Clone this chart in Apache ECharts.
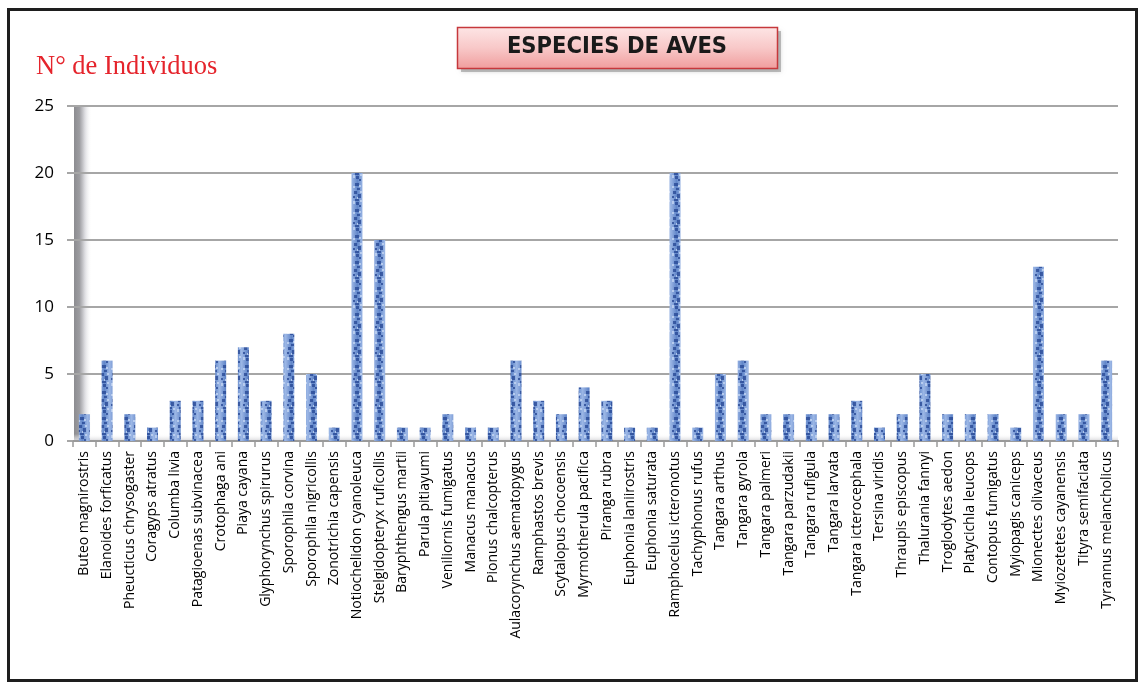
<!DOCTYPE html>
<html>
<head>
<meta charset="utf-8">
<script src="https://cdn.jsdelivr.net/npm/echarts@6/dist/echarts.min.js"></script>
<style>
  html, body { margin: 0; padding: 0; background: #ffffff; }
  #chart { width: 1140px; height: 682px; }
</style>
</head>
<body>
<div id="chart"></div>
<script>
// Bird species recorded and number of individuals per species
const species = [
  'Buteo magnirostris', 'Elanoides forficatus', 'Pheucticus chrysogaster', 'Coragyps atratus',
  'Columba livia', 'Patagioenas subvinacea', 'Crotophaga ani', 'Piaya cayana',
  'Glyphorynchus spirurus', 'Sporophila corvina', 'Sporophila nigricollis', 'Zonotrichia capensis',
  'Notiochelidon cyanoleuca', 'Stelgidopteryx ruficollis', 'Baryphthengus martii', 'Parula pitiayumi',
  'Veniliornis fumigatus', 'Manacus manacus', 'Pionus chalcopterus', 'Aulacorynchus aematopygus',
  'Ramphastos brevis', 'Scytalopus chocoensis', 'Myrmotherula pacifica', 'Piranga rubra',
  'Euphonia laniirostris', 'Euphonia saturata', 'Ramphocelus icteronotus', 'Tachyphonus rufus',
  'Tangara arthus', 'Tangara gyrola', 'Tangara palmeri', 'Tangara parzudakii',
  'Tangara rufigula', 'Tangara larvata', 'Tangara icterocephala', 'Tersina viridis',
  'Thraupis episcopus', 'Thalurania fannyi', 'Troglodytes aedon', 'Platycichla leucops',
  'Contopus fumigatus', 'Myiopagis caniceps', 'Mionectes olivaceus', 'Myiozetetes cayanensis',
  'Tityra semifaciata', 'Tyrannus melancholicus'
];

const individuals = [
  2, 6, 2, 1,
  3, 3, 6, 7,
  3, 8, 5, 1,
  20, 15, 1, 1,
  2, 1, 1, 6,
  3, 2, 4, 3,
  1, 1, 20, 1,
  5, 6, 2, 2,
  2, 2, 3, 1,
  2, 5, 2, 2,
  2, 1, 13, 2,
  2, 6
];

const yTicks = [0, 5, 10, 15, 20, 25];

const chartTitle = 'ESPECIES DE AVES';
const yAxisTitle = 'N° de Individuos';

// Mottled blue fill tile for the bars (fixed blotch layout, repeated vertically)
function makeBarTile() {
  const c = document.createElement('canvas');
  c.width = 11; c.height = 26;
  const g = c.getContext('2d');
  const grad = g.createLinearGradient(0, 0, 11, 0);
  grad.addColorStop(0, '#98b3e3');
  grad.addColorStop(0.5, '#6186c9');
  grad.addColorStop(1, '#a0bbe8');
  g.fillStyle = grad;
  g.fillRect(0, 0, 11, 26);
  const dark = [
    [3, 1, 4, 3], [5, 6, 3, 2], [2, 9, 3, 3], [6, 12, 3, 4],
    [3, 17, 4, 2], [4, 20, 3, 3], [7, 23, 2, 2], [1, 14, 2, 2]
  ];
  g.fillStyle = 'rgba(36,68,145,0.75)';
  dark.forEach(function (d) { g.fillRect(d[0], d[1], d[2], d[3]); });
  const light = [[1, 4, 2, 2], [7, 3, 2, 2], [8, 9, 2, 2], [1, 19, 2, 3], [5, 15, 1, 2], [8, 18, 2, 2]];
  g.fillStyle = 'rgba(196,214,243,0.8)';
  light.forEach(function (d) { g.fillRect(d[0], d[1], d[2], d[3]); });
  return c;
}

const chart = echarts.init(document.getElementById('chart'), null, { renderer: 'canvas' });

chart.setOption({
  backgroundColor: '#ffffff',
  animation: false,
  grid: { left: 73, right: 22, top: 106, bottom: 241, containLabel: false },
  graphic: [
    // outer frame
    {
      type: 'rect', z: 100, silent: true,
      shape: { x: 8.5, y: 9.5, width: 1128, height: 671 },
      style: { fill: 'none', stroke: '#1e1e1e', lineWidth: 3 }
    },
    // shaded back wall on the left side of the plot
    {
      type: 'rect', z: -5, silent: true,
      shape: { x: 74, y: 107, width: 18, height: 334 },
      style: {
        fill: new echarts.graphic.LinearGradient(0, 0, 1, 0, [
          { offset: 0, color: '#8c8c90' },
          { offset: 0.3, color: '#9c9ca0' },
          { offset: 0.6, color: '#dcdce0' },
          { offset: 1, color: 'rgba(255,255,255,0)' }
        ])
      }
    },
    // floor shading above the category axis
    {
      type: 'rect', z: -5, silent: true,
      shape: { x: 74, y: 434, width: 1044, height: 7 },
      style: {
        fill: new echarts.graphic.LinearGradient(0, 0, 0, 1, [
          { offset: 0, color: 'rgba(255,255,255,0)' },
          { offset: 1, color: '#d4d4d8' }
        ])
      }
    },
    // title box shadow
    {
      type: 'rect', z: 10, silent: true,
      shape: { x: 461, y: 31, width: 320, height: 41 },
      style: { fill: 'rgba(120,120,120,0.45)', shadowBlur: 4, shadowColor: 'rgba(0,0,0,0.3)' }
    },
    // title box
    {
      type: 'rect', z: 11, silent: true,
      shape: { x: 457.5, y: 27.5, width: 320, height: 41 },
      style: {
        fill: new echarts.graphic.LinearGradient(0, 0, 0, 1, [
          { offset: 0, color: '#fde6e6' },
          { offset: 0.5, color: '#f8c8c8' },
          { offset: 1, color: '#f09c9c' }
        ]),
        stroke: '#c6383c', lineWidth: 1.5
      }
    },
    {
      type: 'text', z: 12, silent: true,
      x: 617, y: 47,
      style: {
        text: chartTitle, fill: '#1a1a1a',
        font: 'bold 23.5px "DejaVu Sans Condensed", "DejaVu Sans", sans-serif',
        align: 'center', verticalAlign: 'middle'
      }
    },
    {
      type: 'text', z: 12, silent: true,
      x: 36, y: 67,
      style: {
        text: yAxisTitle, fill: '#e5242c',
        font: '26.5px "Liberation Serif", "Times New Roman", serif',
        align: 'left', verticalAlign: 'middle'
      }
    }
  ],
  xAxis: {
    type: 'category',
    data: species,
    boundaryGap: true,
    axisLine: { show: true, lineStyle: { color: '#9a9a9a', width: 2 } },
    axisTick: { show: true, interval: 0, length: 6, lineStyle: { color: '#9a9a9a', width: 1.5 } },
    axisLabel: {
      interval: 0, rotate: 90, margin: 10,
      color: '#000000', fontSize: 14,
      fontFamily: '"Open Sans", "Liberation Sans", sans-serif'
    },
    splitLine: { show: false }
  },
  yAxis: {
    type: 'value',
    min: yTicks[0],
    max: yTicks[yTicks.length - 1],
    interval: 5,
    axisLine: { show: false },
    axisTick: { show: true, length: 6, lineStyle: { color: '#a6a6a6', width: 2 } },
    axisLabel: {
      color: '#000000', fontSize: 17, margin: 19,
      fontFamily: '"Open Sans", "Liberation Sans", sans-serif'
    },
    splitLine: { show: true, lineStyle: { color: '#a6a6a6', width: 2 } }
  },
  series: [{
    type: 'bar',
    data: individuals,
    barWidth: 11,
    itemStyle: { color: { image: makeBarTile(), repeat: 'repeat' } },
    z: 3
  }]
});
</script>
</body>
</html>
